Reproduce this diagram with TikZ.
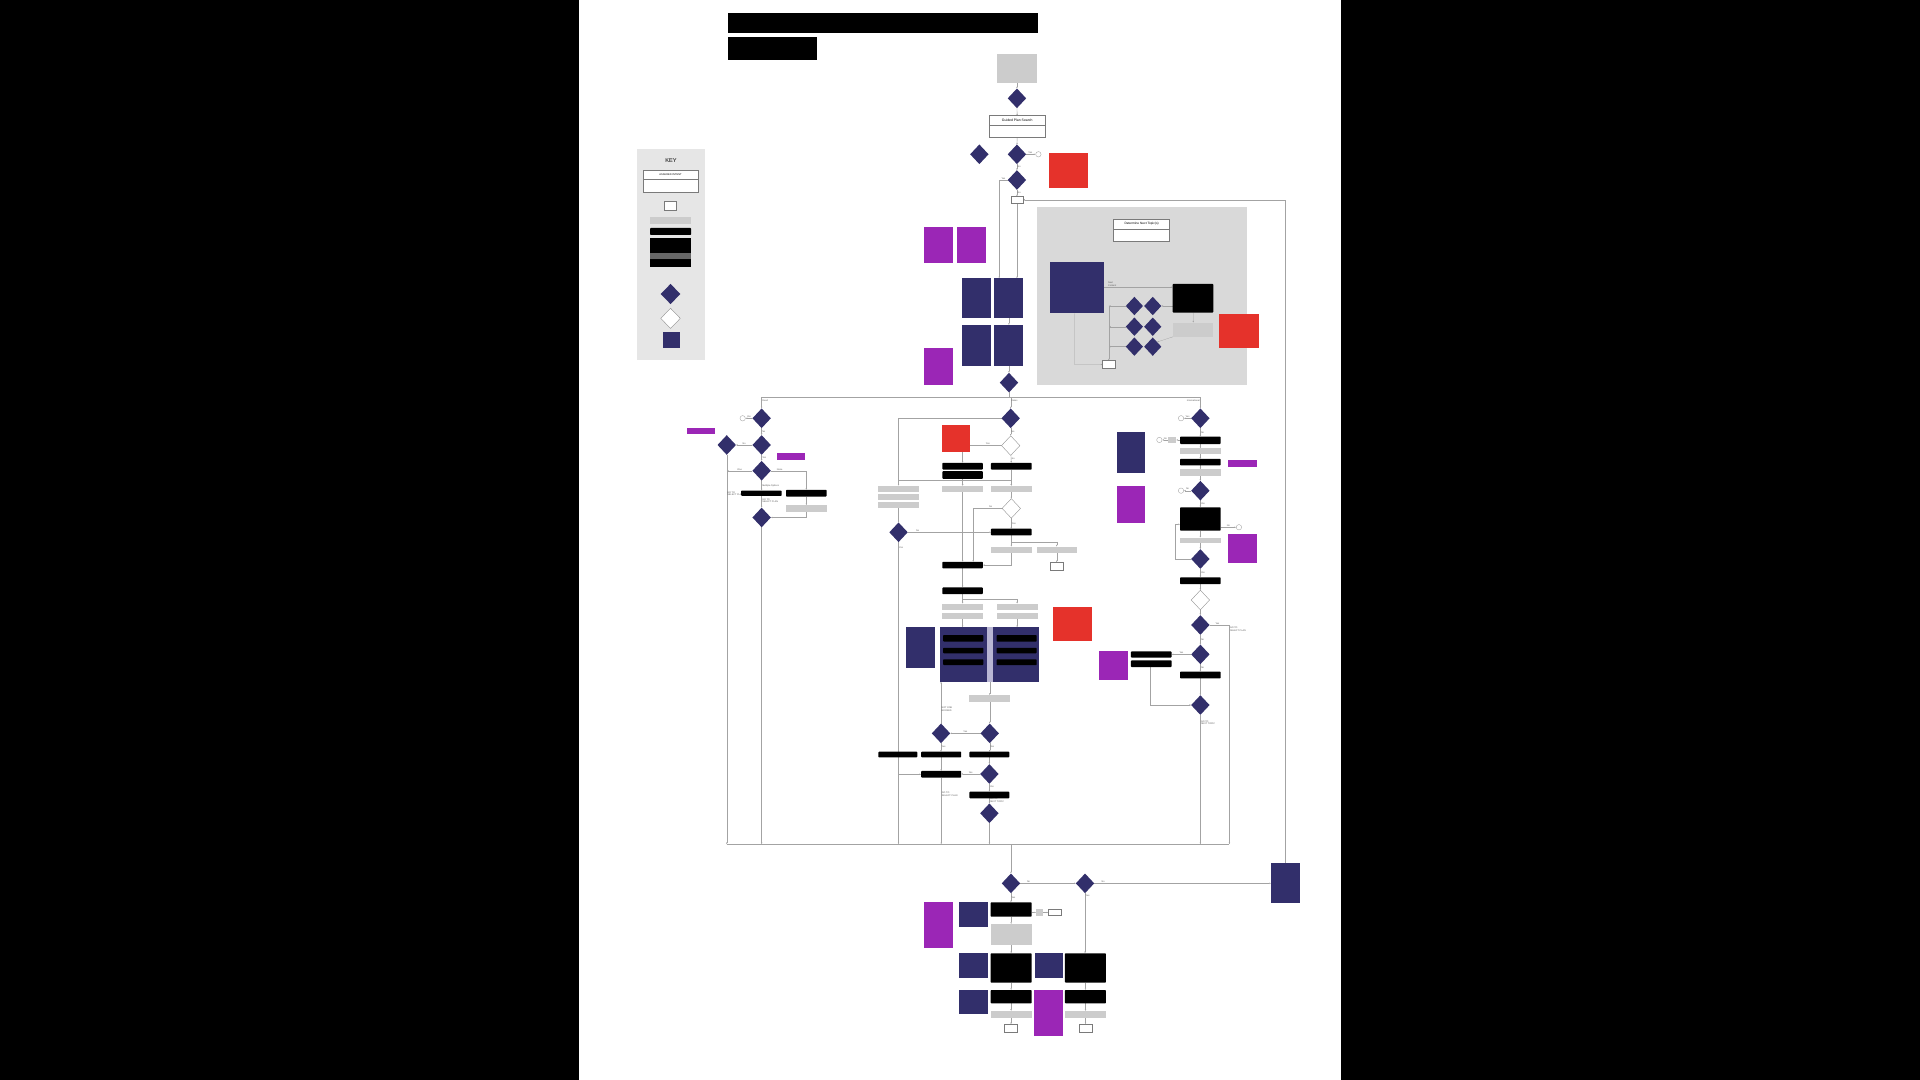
\documentclass[tikz,border=0pt]{standalone}
\usepackage{fontspec}
\setmainfont{Liberation Sans}
\usetikzlibrary{shapes.geometric,arrows.meta}
\definecolor{navyc}{HTML}{322F6B}
\definecolor{purpc}{HTML}{9B26B6}
\definecolor{redc}{HTML}{E5322B}
\definecolor{grayc}{HTML}{CCCCCC}
\definecolor{panelc}{HTML}{D9D9D9}
\definecolor{keyc}{HTML}{E6E6E6}
\definecolor{linec}{HTML}{A3A3A3}
\definecolor{stripc}{HTML}{B9B6D3}
\definecolor{bordc}{HTML}{7A7A7A}
\pgfdeclarelayer{back}
\pgfdeclarelayer{edges}
\pgfsetlayers{back,edges,main}
\newcommand\bx[7]{\node[#2, minimum width={(#5)-(#3)}, minimum height={(#6)-(#4)}] (#1) at ({((#3)+(#5))/2},{((#4)+(#6))/2}) {#7};}
\tikzset{
  basebox/.style={inner sep=0pt, outer sep=0pt},
  nv/.style={basebox, fill=navyc},
  pu/.style={basebox, fill=purpc},
  rd/.style={basebox, fill=redc},
  bk/.style={basebox, fill=black, rounded corners=0.6pt},
  tb/.style={basebox, fill=black},
  gy/.style={basebox, fill=grayc},
  dg/.style={basebox, fill=black!60},
  st/.style={basebox, fill=stripc},
  wb/.style={basebox, fill=white, draw=bordc, line width=0.35pt},
  dia/.style={diamond, fill=navyc, minimum width=15pt, minimum height=16pt, inner sep=0pt, outer sep=0pt},
  wdia/.style={diamond, fill=white, draw=black!45, line width=0.3pt, minimum width=15pt, minimum height=16pt, inner sep=0pt, outer sep=0pt},
  ar/.style={draw=linec, line width=0.25pt, -{Latex[length=1.4pt,width=1.2pt]}},
  ln/.style={draw=linec, line width=0.25pt},
  lbl/.style={font=\fontsize{1.9}{2.2}\selectfont, text=black!65, inner sep=0.4pt, align=left},
  circ/.style={circle, draw=linec, line width=0.3pt, minimum size=4.4pt, inner sep=0pt, fill=white},
}
\begin{document}
\begin{tikzpicture}[x=1pt,y=-1pt]
\useasboundingbox (0,0) rectangle (1568,882);
\begin{pgfonlayer}{back}
\fill[black] (0,0) rectangle (1568,882);
\fill[white] (473,0) rectangle (1095,882);
\fill[keyc] (520.2,122) rectangle (575.8,294);
\fill[panelc] (847.1,169.3) rectangle (1018.1,314.4);
\end{pgfonlayer}

% title
\bx{ttl1}{tb}{594.8}{10.3}{847.7}{27.2}{}
\bx{ttl2}{tb}{594.8}{29.9}{666.9}{49}{}

% key
\node[font=\fontsize{4.6}{5}\selectfont] (keyt) at (548,131) {KEY};
\bx{kai}{wb}{525}{138.8}{570.3}{157.1}{}
\draw[bordc,line width=0.3pt] (525,146.5) -- (570.3,146.5);
\node[font=\fontsize{2.1}{2.4}\selectfont] (kait) at (547.6,142.7) {ASSURED INTENT};
\bx{ksb}{wb}{542.7}{164.7}{552.6}{171.5}{}
\bx{kg}{gy}{530.9}{177.5}{564.4}{183}{}
\bx{kb}{bk}{530.9}{186.2}{564.4}{191.9}{}
\bx{ks1}{tb}{530.9}{194.6}{564.4}{200.9}{}
\bx{ks2}{tb}{530.9}{200.9}{564.4}{206.3}{}
\bx{ks3}{dg}{530.9}{206.3}{564.4}{211.8}{}
\bx{ks4}{tb}{530.9}{211.8}{564.4}{217.8}{}
\node[dia, minimum width=16pt, minimum height=16.5pt] (kd) at (547.6,240.1) {};
\node[wdia, minimum width=16pt, minimum height=16.5pt] (kw) at (547.6,260) {};
\bx{ksq}{nv}{541.7}{270.9}{555.5}{283.9}{}

% top flow
\bx{gtop}{gy}{814}{44.1}{847}{67.5}{}
\node[dia] (D0) at (830.5,80.3) {};
\bx{gps}{wb}{808}{94.5}{853.5}{112.4}{}
\draw[bordc,line width=0.3pt] (808,102) -- (853.5,102);
\node[font=\fontsize{2.8}{3}\selectfont] (gpst) at (830.75,98.3) {Guided Plan Search};
\node[dia] (G2) at (799.8,126) {};
\node[dia] (G3) at (830.5,126) {};
\node[circ] (c1) at (848,126) {};
\bx{Ra}{rd}{856.5}{125.2}{888.4}{153.2}{}
\node[dia] (G4) at (830.5,147) {};
\bx{sb1}{wb}{825.5}{160.5}{835.5}{166}{}

\bx{Pa}{pu}{754.6}{185.1}{778.2}{215.1}{}
\bx{Pb}{pu}{781.3}{185.1}{804.9}{215.1}{}
\bx{Na}{nv}{785.3}{227.3}{809}{260}{}
\bx{Nb}{nv}{812.1}{227.3}{835.8}{260}{}
\bx{Nc}{nv}{785.3}{265.4}{809}{298.6}{}
\bx{Nd}{nv}{812.1}{265.4}{835.8}{298.6}{}
\bx{Pc}{pu}{754.6}{284.5}{778.2}{314.4}{}
\node[dia] (D5) at (824,312.5) {};

% determine panel
\bx{dnt}{wb}{909.5}{178.9}{955.2}{197.4}{}
\draw[bordc,line width=0.3pt] (909.5,187) -- (955.2,187);
\node[font=\fontsize{2.6}{3}\selectfont] (dntt) at (932.3,183) {Determine Next Topic(s)};
\bx{Nt}{nv}{857.7}{213.7}{901.5}{255.9}{}
\bx{Bt}{bk}{957.7}{231.9}{990.9}{255.3}{}
\bx{Gt}{gy}{958}{263.5}{991}{275}{}
\bx{Rt}{rd}{995.8}{256.1}{1028.2}{284.4}{}
\node[dia, minimum width=14pt, minimum height=15pt] (T11) at (926.4,249.9) {};
\node[dia, minimum width=14pt, minimum height=15pt] (T12) at (941.4,249.9) {};
\node[dia, minimum width=14pt, minimum height=15pt] (T21) at (926.4,266.8) {};
\node[dia, minimum width=14pt, minimum height=15pt] (T22) at (941.4,266.8) {};
\node[dia, minimum width=14pt, minimum height=15pt] (T31) at (926.4,283.1) {};
\node[dia, minimum width=14pt, minimum height=15pt] (T32) at (941.4,283.1) {};
\bx{stb}{wb}{900.5}{294.5}{910.6}{300.8}{}

% fixed branch
\node[dia] (A1) at (622,341.6) {};
\node[circ] (cA) at (606.5,341.6) {};
\node[dia] (A2) at (622,363.4) {};
\node[dia] (A3) at (593.5,363.4) {};
\bx{P1}{pu}{560.8}{349.3}{583.9}{354.7}{}
\bx{P2}{pu}{634.3}{370.2}{657.4}{375.7}{}
\node[dia] (A4) at (622,384.4) {};
\bx{B1}{bk}{605.2}{400.6}{638.4}{404.9}{}
\bx{B2}{bk}{641.9}{400}{675.1}{405.5}{}
\bx{G1}{gy}{641.9}{412.6}{675.1}{418}{}
\node[dia] (A5) at (622,422.6) {};

% dates branch
\node[dia] (D1) at (825.4,341.6) {};
\node[wdia] (W1) at (825.4,363.9) {};
\bx{C1}{bk}{769.6}{378}{802.6}{383.5}{}
\bx{C2}{bk}{769.6}{384.8}{802.6}{391}{}
\bx{C3}{bk}{809.3}{378}{842.5}{383.5}{}
\bx{GL1}{gy}{717.3}{396.7}{750.3}{401.7}{}
\bx{GL2}{gy}{717.3}{403.2}{750.3}{408.4}{}
\bx{GL3}{gy}{717.3}{410.3}{750.3}{415.2}{}
\bx{GC}{gy}{769.6}{396.7}{802.6}{401.7}{}
\bx{GR}{gy}{809.3}{396.7}{842.5}{401.7}{}
\node[wdia] (W2) at (825.9,415.2) {};
\node[dia] (D2) at (733.8,434.7) {};
\bx{F1}{bk}{809.3}{431.8}{842.5}{437.3}{}
\bx{GF1}{gy}{809.3}{446.4}{842.5}{451.8}{}
\bx{GF2}{gy}{846.6}{446.4}{879.3}{451.8}{}
\bx{SW}{wb}{857.5}{459.3}{868.4}{465.6}{}
\bx{E1}{bk}{769.6}{458.8}{802.6}{464.2}{}
\bx{E2}{bk}{769.6}{479.7}{802.6}{485.2}{}
\bx{H1}{gy}{769.6}{493}{802.6}{498.5}{}
\bx{H2}{gy}{769.6}{500.4}{802.6}{505.3}{}
\bx{HR1}{gy}{813.9}{493}{847.4}{498.5}{}
\bx{HR2}{gy}{813.9}{500.4}{847.4}{505.3}{}
\bx{N1}{nv}{739.9}{512.3}{763.6}{545.8}{}
\bx{N2}{nv}{767.7}{512.3}{805.8}{556.7}{}
\bx{strip}{st}{805.8}{512.3}{810.7}{556.7}{}
\bx{N3}{nv}{810.7}{512.3}{848.5}{556.7}{}
\bx{n2a}{bk}{770.3}{518.6}{803}{524}{}
\bx{n2b}{bk}{770.3}{529}{803}{533.5}{}
\bx{n2c}{bk}{770.3}{538.4}{803}{543.2}{}
\bx{n3a}{bk}{813.9}{518.6}{846.6}{524}{}
\bx{n3b}{bk}{813.9}{529}{846.6}{533.5}{}
\bx{n3c}{bk}{813.9}{538.4}{846.6}{543.2}{}
\bx{R2}{rd}{859.7}{496}{891.5}{523.2}{}
\bx{K1}{gy}{791.6}{567.7}{824.9}{573.5}{}
\node[dia] (Q1) at (768.5,598.9) {};
\node[dia] (Q2) at (808.25,598.9) {};
\bx{S1}{bk}{717.3}{613.9}{749.1}{618.5}{}
\bx{S2}{bk}{752.3}{613.9}{785}{618.5}{}
\bx{S3}{bk}{791.7}{613.9}{824.3}{618.5}{}
\bx{T1}{bk}{752.3}{629.6}{785}{635.1}{}
\node[dia] (Q3) at (808,632.1) {};
\bx{T2}{bk}{791.7}{646.5}{824.3}{652}{}
\node[dia] (Q4) at (808,664.2) {};
\bx{R1}{rd}{769}{347.1}{792.2}{368.9}{}

% international branch
\node[dia] (I1) at (980.3,341.6) {};
\node[circ] (cI1) at (964.5,341.6) {};
\bx{J1}{bk}{963.7}{356.6}{996.9}{362.6}{}
\bx{JG}{gy}{954.2}{356.6}{960.5}{362}{}
\node[circ] (cJ) at (946.8,359.3) {};
\bx{J2}{gy}{963.7}{366.1}{996.9}{371}{}
\bx{J3}{bk}{963.7}{374.8}{996.9}{380}{}
\bx{P3}{pu}{1002.7}{375.7}{1026.3}{381.6}{}
\bx{J4}{gy}{963.7}{383.3}{996.9}{388.7}{}
\node[dia] (I2) at (980.3,400.7) {};
\node[circ] (cI2) at (964.5,400.7) {};
\bx{J5}{bk}{963.7}{414.3}{996.9}{433.4}{}
\node[circ] (cJ5) at (1011.8,430.6) {};
\bx{J6}{gy}{963.7}{439.1}{996.9}{443.7}{}
\node[dia] (I3) at (980.3,456.5) {};
\bx{P4}{pu}{1002.7}{436.3}{1026.3}{459.5}{}
\bx{J7}{bk}{963.7}{471.5}{996.9}{477}{}
\node[wdia] (W3) at (980.3,490) {};
\node[dia] (I4) at (980.3,510.4) {};
\node[dia] (I5) at (980.3,534.4) {};
\bx{K1i}{bk}{923.6}{532}{956.8}{537}{}
\bx{K2i}{bk}{923.6}{539.3}{956.8}{544.8}{}
\bx{P5}{pu}{897.8}{532}{921.3}{555}{}
\bx{N4}{nv}{911.9}{353}{935.1}{385.9}{}
\bx{P6}{pu}{911.9}{396.9}{935.1}{426.8}{}
\bx{K3}{bk}{963.7}{548.5}{996.9}{554}{}
\node[dia] (I6) at (980.3,575.8) {};

% bottom section
\node[dia] (L1) at (825.6,721.4) {};
\node[dia] (L2) at (886.1,721.4) {};
\bx{N5}{nv}{1038}{704.5}{1061.7}{737.7}{}
\bx{M1}{bk}{809}{736.9}{842.5}{748.6}{}
\bx{sg}{gy}{846.1}{742.6}{851.5}{747.8}{}
\bx{swb}{wb}{856.1}{742.6}{867}{747.8}{}
\bx{N6}{nv}{783.5}{736.4}{807.2}{756.8}{}
\bx{P7}{pu}{754.6}{736.4}{778.6}{774.5}{}
\bx{M2}{gy}{809}{754.6}{842.5}{771.7}{}
\bx{M3}{bk}{809}{778.5}{842.5}{802.5}{}
\bx{M4}{bk}{869.7}{778.5}{903.2}{802.5}{}
\bx{N7}{nv}{783.5}{778.5}{807.2}{798.4}{}
\bx{N8}{nv}{845.3}{778.5}{868.5}{798.4}{}
\bx{M5}{bk}{809}{808.5}{842.5}{819.4}{}
\bx{M6}{bk}{869.7}{808.5}{903.2}{819.4}{}
\bx{N9}{nv}{783.5}{808.5}{807.2}{828.4}{}
\bx{P8}{pu}{844.5}{808.5}{867.9}{846}{}
\bx{M7}{gy}{809}{825.6}{842.5}{831}{}
\bx{M8}{gy}{869.7}{825.6}{903.2}{831}{}
\bx{M9}{wb}{820.2}{836.5}{831.1}{843.3}{}
\bx{M10}{wb}{881}{836.5}{892}{843.3}{}

% helper coordinates
\coordinate (hsplit) at (0,324.5);
\coordinate (bl) at (0,689.5);
\coordinate (hNC) at (0,234.6);
\coordinate (vx) at (905.5,249.9);
\coordinate (nx) at (877.5,297.6);
\coordinate (dy) at (0,392.5);
\coordinate (ex) at (794.8,0);
\coordinate (fy) at (0,442.5);
\coordinate (hy) at (0,489.5);
\coordinate (lx) at (959.5,428.2);
\coordinate (rx) at (1004,0);
\coordinate (kx) at (939,0);
\coordinate (gx) at (816,0);

\begin{pgfonlayer}{edges}
% top
\draw[ar] (gtop) -- (D0);
\draw[ar] (D0) -- (gps);
\draw[ar] (gps) -- (G3);
\draw[ar] (G3.east) -- node[lbl,above,pos=0.45]{Yes} (c1);
\draw[ar] (G3) -- node[lbl,right,pos=0.5]{No} (G4);
\draw[ar] (G4.west) -- node[lbl,above,pos=0.5]{Yes} (G4.west -| gx) -- (gx |- Nb.north);
\draw[ar] (G4) -- node[lbl,right,pos=0.5]{No} (sb1);
\draw[ar] (sb1.south) -- (sb1.south |- Nb.north);
\draw[ar] (Nb) -- (Nd);
\draw[ar] (Nd.south -| D5) -- (D5.north);
\draw[ln] (D5.south) -- (D5.south |- hsplit);
\draw[ln] (A1 |- hsplit) -- (I1 |- hsplit);
\draw[ar] (A1 |- hsplit) -- node[lbl,right,pos=0.3]{Fixed} (A1.north);
\draw[ar] (D1 |- hsplit) -- node[lbl,right,pos=0.3]{Dates} (D1.north);
\draw[ar] (I1 |- hsplit) -- node[lbl,left,pos=0.3]{International} (I1.north);
\draw[ar] (N5.north) |- (sb1.east);
% determine panel
\draw[ar] (Nt.east |- hNC) -- node[lbl,above,pos=0.12,align=left]{Next\\Content} (Bt.west |- hNC);
\draw[ar] (Bt.west |- T12) -- (T12.east);
\draw[ar] (Bt) -- (Gt);
\draw[ar] (Gt.south west) -- (T32.north east);
\draw[ar] (T11.west) -- (T11.west -| vx);
\draw[ar] (T21.west) -- (T21.west -| vx);
\draw[ar] (T31.west) -- (T31.west -| vx);
\draw[ar] (vx) -- (vx |- stb.north);
\draw[ar] (Nt.south -| nx) -- (nx) -- (stb.west);
% fixed
\draw[ar] (A1.west) -- node[lbl,above]{Yes} (cA);
\draw[ar] (A1) -- node[lbl,right]{No} (A2);
\draw[ar] (A2.west) -- node[lbl,above]{No} (A3.east);
\draw[ar] (A2) -- node[lbl,right]{Yes} (A4);
\draw[ar] (A4.west) -- node[lbl,above]{One} (A4.west -| A3);
\draw[ar] (A4.east) -- node[lbl,above,pos=0.25]{None} (A4.east -| B2) -- (B2.north);
\draw[ar] (A4.south) -- node[lbl,right,pos=0.55]{Multiple Options} (A4.south |- B1.north);
\draw[ar] (B2) -- (G1);
\draw[ar] (G1.south) |- (A5.east);
\draw[ar] (B1.south -| A5) -- node[lbl,right,pos=0.4,align=left]{GO TO\\SELECT PLAN} (A5.north);
\draw[ar] (A3.south) -- node[lbl,right,pos=0.1,align=left]{GO TO\\SELECT PLAN} (A3.south |- bl);
\draw[ar] (A5.south) -- (A5.south |- bl);
% dates
\draw[ar] (D1.west) -| (GL1.north);
\draw[ln] (GL1.north |- dy) -- (GR.north |- dy);
\draw[ar] (GC.north |- dy) -- (GC.north);
\draw[ar] (GR.north |- dy) -- (GR.north);
\draw[ar] (D1) -- node[lbl,right]{No} (W1);
\draw[ar] (W1.west) -- node[lbl,above,pos=0.35]{Yes} (W1.west -| C1) -- (C1.north);
\draw[ar] (W1) -- node[lbl,right]{No} (C3);
\draw[ar] (C2) -- (GC);
\draw[ar] (C3) -- (GR);
\draw[ar] (GR) -- (W2);
\draw[ar] (W2) -- node[lbl,right]{Yes} (F1);
\draw[ar] (W2.west) -- node[lbl,above,pos=0.4]{No} (W2.west -| ex) -- (ex |- E1.north);
\draw[ar] (GC.south) -- (GC.south |- E1.north);
\draw[ar] (GL3) -- (D2);
\draw[ar] (D2.east) -- node[lbl,above,pos=0.12]{No} (D2.east -| F1.west);
\draw[ar] (D2.south) -- node[lbl,right,pos=0.02]{Yes} (D2.south |- bl);
\draw[ar] (D2.south |- T1) -- (T1.west);
\draw[ln] (F1.south) -- (F1.south |- fy) -- (GF2.north |- fy);
\draw[ar] (F1.south |- fy) -- (GF1.north);
\draw[ar] (GF2.north |- fy) -- (GF2.north);
\draw[ar] (GF2.south -| SW) -- (SW.north);
\draw[ar] (GF1.south) |- (E1.east);
\draw[ar] (E1) -- (E2);
\draw[ln] (E2.south) -- (E2.south |- hy) -- (HR1.north |- hy);
\draw[ar] (E2.south |- hy) -- (H1.north);
\draw[ar] (HR1.north |- hy) -- (HR1.north);
\draw[ar] (H2) -- (H2.south |- N2.north);
\draw[ar] (HR2) -- (HR2.south |- N3.north);
\draw[ar] (strip.south) -- (strip.south |- K1.north);
\draw[ar] (K1) -- (Q2);
\draw[ar] (Q2.west) -- node[lbl,above]{Yes} (Q1.east);
\draw[ar] (Q1.north) -- node[lbl,right,pos=0.35,align=left]{NOT ONE\\BOOKED} (Q1.north |- N2.south);
\draw[ar] (Q1.south) -- node[lbl,right,pos=0.4]{Yes} (Q1.south |- S2.north);
\draw[ar] (Q2.south) -- node[lbl,right,pos=0.4]{Yes} (Q2.south |- S3.north);
\draw[ar] (S2) -- (T1);
\draw[ar] (S3.south -| Q3) -- (Q3.north);
\draw[ar] (Q3.west) -- node[lbl,above]{Yes} (T1.east |- Q3);
\draw[ar] (Q3.south) -- node[lbl,right,pos=0.4]{Yes} (Q3.south |- T2.north);
\draw[ar] (T2.south -| Q4) -- node[lbl,right,pos=0.3,align=left]{GO TO\\NEXT TOPIC} (Q4.north);
\draw[ar] (Q4.south) -- (Q4.south |- bl);
\draw[ar] (T1.south) -- node[lbl,right,pos=0.25,align=left]{GO TO\\SELECT PLAN} (T1.south |- bl);
% international
\draw[ar] (I1.west) -- node[lbl,above]{Yes} (cI1);
\draw[ar] (I1) -- node[lbl,right]{No} (I1 |- J1.north);
\draw[ar] (J1.west |- JG) -- (JG.east);
\draw[ar] (JG.west) -- node[lbl,above]{No} (cJ);
\draw[ar] (J1) -- (J2);
\draw[ar] (J2) -- (J3);
\draw[ar] (J3) -- (J4);
\draw[ar] (J4.south -| I2) -- (I2.north);
\draw[ar] (I2.west) -- node[lbl,above]{No} (cI2);
\draw[ar] (I2.south) -- node[lbl,right]{Yes} (I2.south |- J5.north);
\draw[ar] (J5.east |- cJ5) -- node[lbl,above]{No} (cJ5);
\draw[ar] (J5) -- (J6);
\draw[ar] (J6.south -| I3) -- (I3.north);
\draw[ar] (I3.west) -| (lx) -- (J5.west |- lx);
\draw[ar] (I3.south) -- node[lbl,right]{Yes} (I3.south |- J7.north);
\draw[ar] (J7.south -| W3) -- (W3.north);
\draw[ar] (W3) -- (I4);
\draw[ar] (I4.east) -- node[lbl,above,pos=0.4]{Yes} (I4.east -| rx) -- node[lbl,right,pos=0.02,align=left]{GO TO\\SELECT PLAN} (rx |- bl);
\draw[ar] (I4) -- node[lbl,right]{No} (I5);
\draw[ar] (I5.west) -- node[lbl,above]{Yes} (K1i.east |- I5);
\draw[ar] (I5.south) -- node[lbl,right]{No} (I5.south |- K3.north);
\draw[ar] (K3.south -| I6) -- (I6.north);
\draw[ar] (K2i.south -| kx) |- (I6.west);
\draw[ar] (I6.south) -- node[lbl,right,pos=0.06,align=left]{GO TO\\NEXT TOPIC} (I6.south |- bl);
% bottom
\draw[ln] (A3.south |- bl) -- (rx |- bl);
\draw[ar] (L1 |- bl) -- (L1.north);
\draw[ar] (L1.east) -- node[lbl,above,pos=0.15]{No} (L2.west);
\draw[ar] (L2.east) -- node[lbl,above,pos=0.05]{No} (N5.west |- L2);
\draw[ar] (L1.south) -- node[lbl,right]{Yes} (L1.south |- M1.north);
\draw[ar] (M1.east |- sg) -- (sg.west);
\draw[ar] (sg.east) -- (swb.west);
\draw[ar] (M1) -- (M2);
\draw[ar] (M2) -- (M3);
\draw[ar] (M3) -- (M5);
\draw[ar] (M5) -- (M7);
\draw[ar] (M7.south -| M9) -- (M9.north);
\draw[ar] (L2.south) -- node[lbl,right,pos=0.05]{Yes} (L2.south |- M4.north);
\draw[ar] (M4) -- (M6);
\draw[ar] (M6) -- (M8);
\draw[ar] (M8.south -| M10) -- (M10.north);
\end{pgfonlayer}
\end{tikzpicture}
\end{document}
